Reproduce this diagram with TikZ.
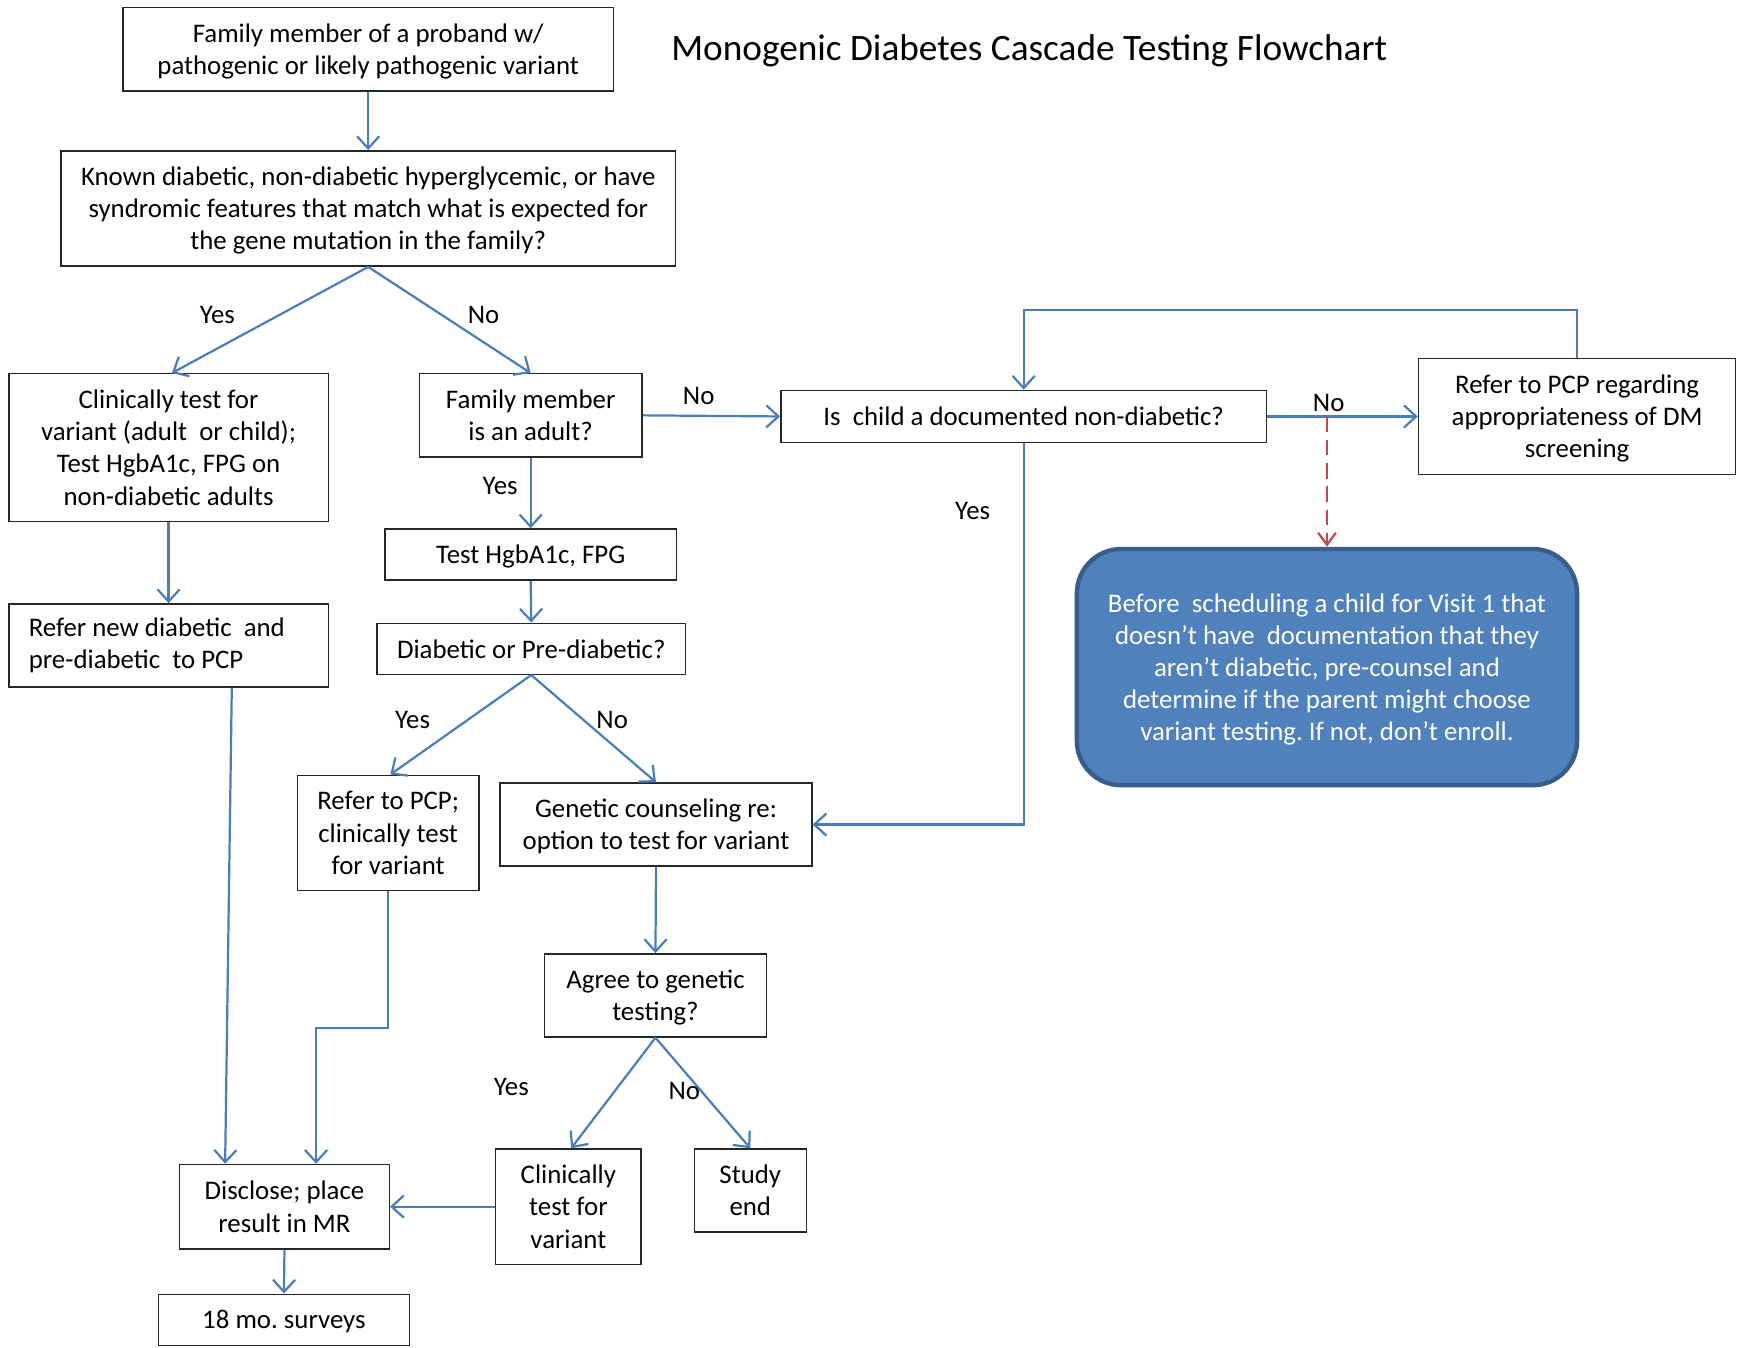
\documentclass[tikz,border=0pt]{standalone}
\usepackage{fontspec}
\setmainfont{Carlito}
\usetikzlibrary{arrows.meta}
\definecolor{lineblue}{HTML}{4A7EBB}
\definecolor{fillblue}{HTML}{4F81BD}
\definecolor{edgeblue}{HTML}{385D8A}
\definecolor{dashred}{HTML}{BE4B48}
\frenchspacing
\begin{document}
\begin{tikzpicture}[x=1pt,y=-1pt,
  box/.style={draw=black!85,line width=1.3pt,inner sep=0pt,align=center,text depth=0pt,font=\fontsize{24.2}{29}\selectfont},
  conn/.style={draw=lineblue,line width=2pt,-{Straight Barb[length=11pt,width=20pt,line width=2pt]}},
  lbl/.style={font=\fontsize{24.2}{29}\selectfont,inner sep=0pt},
  redconn/.style={draw=dashred,line width=2pt,dash pattern=on 14pt off 7pt,-{Straight Barb[length=11pt,width=16pt,line width=2pt]}}]
\useasboundingbox (0,0) rectangle (1568,1215);
% title
\node[font=\fontsize{33.6}{40}\selectfont,inner sep=0pt] (title) at (928,46) {Monogenic Diabetes Cascade Testing Flowchart};
% boxes
\node[box,minimum width=442,minimum height=75] (a) at (332,44.5) {Family member of a proband w/\\pathogenic or likely pathogenic variant};
\node[box,minimum width=554,minimum height=104] (b) at (332,188) {Known diabetic, non-diabetic hyperglycemic, or have\\syndromic features that match what is expected for\\the gene mutation in the family?};
\node[box,minimum width=288,minimum height=133] (c) at (152,403.5) {Clinically test for\\variant (adult~ or child);\\Test HgbA1c, FPG on\\non-diabetic adults};
\node[box,minimum width=201,minimum height=75] (d) at (478.5,374.5) {Family member\\is an adult?};
\node[box,minimum width=438,minimum height=47] (e) at (923,375.5) {Is~ child a documented non-diabetic?};
\node[box,minimum width=286,minimum height=105] (f) at (1422,375.5) {Refer to PCP regarding\\appropriateness of DM\\screening};
\node[box,minimum width=263,minimum height=46] (g) at (478.5,500) {Test HgbA1c, FPG};
\node[box,text depth=,minimum height=75,text width=252,inner xsep=18pt,align=flush left] (h) at (152,582) {Refer new diabetic~ and\\pre-diabetic~ to PCP};
\node[box,minimum width=278,minimum height=46] (i) at (479,585) {Diabetic or Pre-diabetic?};
\node[draw=edgeblue,fill=fillblue,line width=4pt,rounded corners=40pt,minimum width=451,minimum height=213,inner sep=0pt,align=center,text depth=0pt,text=white,font=\fontsize{24.2}{29}\selectfont] (j) at (1196.5,601.5) {Before~ scheduling a child for Visit 1 that\\doesn’t have~ documentation that they\\aren’t diabetic, pre-counsel and\\determine if the parent might choose\\variant testing. If not, don’t enroll.};
\node[box,minimum width=164,minimum height=104] (k) at (350,751) {Refer to PCP;\\clinically test\\for variant};
\node[box,minimum width=281,minimum height=75] (l) at (591.5,743.5) {Genetic counseling re:\\option to test for variant};
\node[box,minimum width=200,minimum height=75] (m) at (591,897.5) {Agree to genetic\\testing?};
\node[box,minimum width=131,minimum height=104] (n) at (512.5,1088) {Clinically\\test for\\variant};
\node[box,minimum width=101,minimum height=75] (o) at (676.5,1073.5) {Study\\end};
\node[box,minimum width=189,minimum height=76] (p) at (256.5,1088) {Disclose; place\\result in MR};
\node[box,minimum width=226,minimum height=46] (q) at (256,1190) {18 mo. surveys};
% connectors
\draw[conn] (a.south) -- (b.north);
\draw[conn] (b.south) -- ([xshift=3pt]c.north);
\draw[conn] (b.south) -- (d.north);
\draw[conn] (d.east) -- (e.west);
\draw[conn] (d.south) -- (g.north);
\draw[conn] (c.south) -- (h.north);
\draw[conn] (g.south) -- (i.north);
\draw[conn] (i.south) -- ([xshift=2pt]k.north);
\draw[conn] (i.south) -- (l.north);
\draw[conn] (e.east) -- (f.west);
\draw[conn] (f.north) -- ++(0,-43) -| (e.north);
\draw[conn] (e.south) |- (l.east);
\coordinate (split) at (j.north |- e.east);
\draw[redconn] (split) -- (j.north);
\draw[conn] ([xshift=57pt]h.south) -- ([xshift=-53.5pt]p.north);
\draw[conn] (k.south) -- ++(0,123) -| ([xshift=28.5pt]p.north);
\draw[conn] (l.south) -- (m.north);
\draw[conn] (m.south) -- ([xshift=2.5pt]n.north);
\draw[conn] (m.south) -- (o.north);
\draw[conn] (n.west) -- (p.east);
\draw[conn] (p.south) -- (q.north);
% labels
\node[lbl] (l1) at (196,284) {Yes};
\node[lbl] (l2) at (436,284) {No};
\node[lbl] (l3) at (630,357) {No};
\node[lbl] (l4) at (451,438) {Yes};
\node[lbl] (l5) at (372,649) {Yes};
\node[lbl] (l6) at (552,649) {No};
\node[lbl] (l7) at (1198,363) {No};
\node[lbl] (l8) at (877,461) {Yes};
\node[lbl] (l9) at (461,980) {Yes};
\node[lbl] (l10) at (617,984) {No};
\end{tikzpicture}
\end{document}
